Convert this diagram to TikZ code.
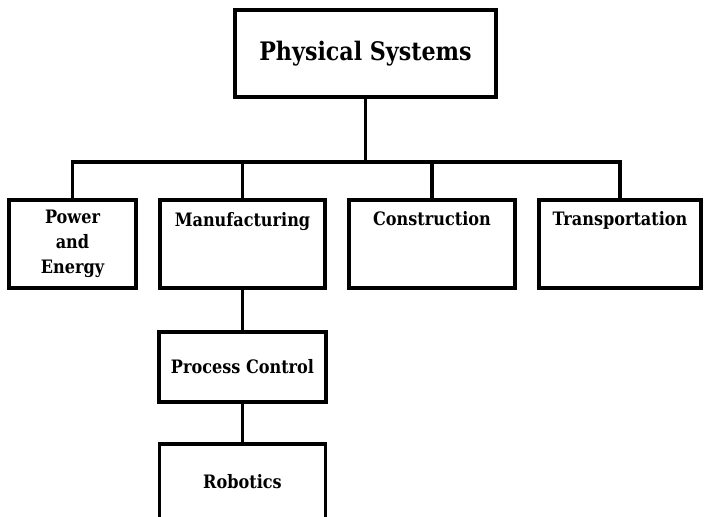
\documentclass[tikz,border=0pt]{standalone}
\usepackage{fontspec}
\setmainfont{DejaVu Serif}[FakeStretch=0.87]
\begin{document}
\begin{tikzpicture}[x=1pt,y=-1pt,
  box/.style={draw=black,line width=3.8pt,rectangle,inner sep=0pt,align=center,line join=miter},
  conn/.style={draw=black,line width=3.4pt,line join=miter},
  small/.style={font=\bfseries\fontsize{18.5}{25}\selectfont},
  big/.style={font=\bfseries\fontsize{25.5}{30}\selectfont},
  lbl/.style={small,inner sep=0pt,anchor=base}]
\useasboundingbox (0,0) rectangle (705,517);
\clip (0,0) rectangle (705,517);
\fill[white] (0,0) rectangle (705,517);
\node[box,big,minimum width=261pt,minimum height=87pt] (top) at (365.5,53.5) {Physical Systems};
\node[box,small,minimum width=127pt,minimum height=88pt] (pe) at (72.5,244) {Power\\and\\Energy};
\node[box,minimum width=165pt,minimum height=88pt] (mf) at (242.5,244) {};
\node[box,minimum width=166pt,minimum height=88pt] (co) at (432,244) {};
\node[box,minimum width=162pt,minimum height=88pt] (tr) at (620,244) {};
\node[box,small,minimum width=167pt,minimum height=70pt] (pc) at (242.5,367) {Process Control};
\node[box,small,minimum width=166pt,minimum height=76pt] (rb) at (242.5,482) {Robotics};
\node[lbl] (mft) at (242.5,226) {Manufacturing};
\node[lbl] (cot) at (432,225) {Construction};
\node[lbl] (trt) at (620,225) {Transportation};
\coordinate (bus) at (365.5,162);
\draw[conn] (top.south) -- (bus);
\draw[conn] (pe.north) |- (bus) -| (tr.north);
\draw[conn] (mf.north) -- (mf.north |- bus);
\draw[conn] (co.north) -- (co.north |- bus);
\draw[conn] (mf.south) -- (pc.north);
\draw[conn] (pc.south) -- (rb.north);
\end{tikzpicture}
\end{document}
